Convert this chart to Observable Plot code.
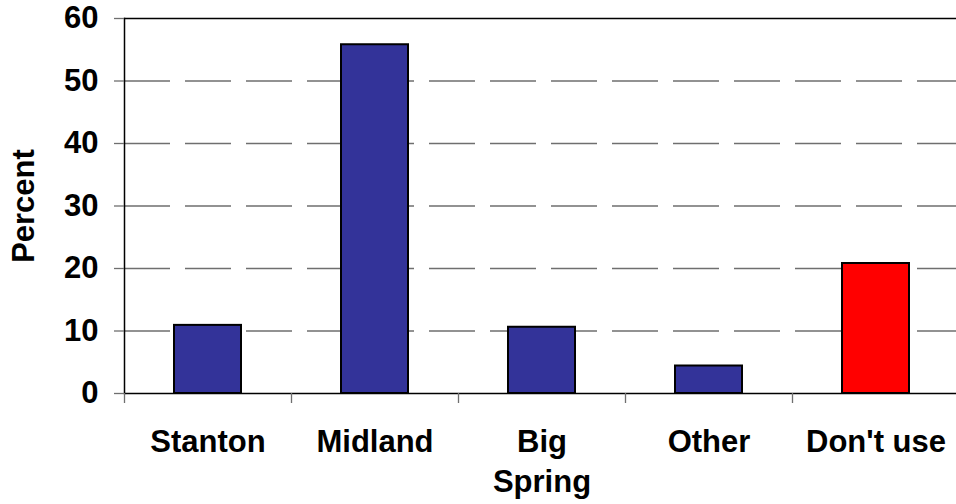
<!DOCTYPE html>
<html>
<head>
<meta charset="utf-8">
<script src="https://cdn.jsdelivr.net/npm/d3@7"></script>
<script src="https://cdn.jsdelivr.net/npm/@observablehq/plot@0.6"></script>
<style>
  html, body { margin: 0; padding: 0; background: #fff; }
  #chart svg { display: block; }
</style>
</head>
<body>
<div id="chart"></div>
<script>
const categories = ["Stanton", "Midland", "Big Spring", "Other", "Don't use"];
const values = [10.9, 55.8, 10.6, 4.4, 20.8];
const tickLabels = ["Stanton", "Midland", "Big\nSpring", "Other", "Don't use"];
const barColors = ["#333399", "#333399", "#333399", "#333399", "#ff0000"];
const yTicks = [0, 10, 20, 30, 40, 50, 60];
const gridValues = [10, 20, 30, 40, 50];
const yLabel = "Percent";

const data = categories.map((c, i) => ({category: c, value: values[i], color: barColors[i]}));
const labelOf = new Map(categories.map((c, i) => [c, tickLabels[i]]));

const W = 956, H = 504;
const xRange = [124, 959];
const step = (xRange[1] - xRange[0]) / categories.length;
const font = "'Liberation Sans', Arial, sans-serif";

const chart = Plot.plot({
  width: W,
  height: H,
  marginTop: 18,
  marginBottom: 111,
  marginLeft: 124,
  marginRight: 0,
  style: {fontFamily: font, color: "black", background: "white"},
  x: {domain: categories, range: xRange, paddingInner: 0.6, paddingOuter: 0.3, align: 0.5},
  y: {domain: [0, 60]},
  marks: [
    Plot.ruleY(gridValues, {stroke: "#6f6f6f", strokeWidth: 1.3, strokeDasharray: "46,15"}),
    Plot.ruleY([60], {stroke: "black", strokeWidth: 1.5}),
    Plot.barY(data, {x: "category", y: "value", fill: "color", stroke: "black", strokeWidth: 2}),
    Plot.ruleY([0], {stroke: "black", strokeWidth: 1.5}),
    Plot.frame({anchor: "left", stroke: "black", strokeWidth: 1.5}),
    Plot.axisY({ticks: yTicks, tickSize: 10, tickPadding: 16, fontSize: 31, fontWeight: "bold",
      stroke: "#6f6f6f", strokeWidth: 1.3, label: null}),
    Plot.axisX({tickSize: 10, tickFormat: () => "", dx: -step / 2, stroke: "#6f6f6f", strokeWidth: 1.3, label: null}),
    Plot.axisX({tickSize: 0, tickPadding: 30, fontSize: 31, fontWeight: "bold", lineHeight: 1.3,
      tickFormat: d => labelOf.get(d), label: null}),
    Plot.text([yLabel], {frameAnchor: "left", dx: -100, rotate: -90, fontSize: 31, fontWeight: "bold",
      textAnchor: "middle", lineAnchor: "middle", fill: "black"})
  ]
});
document.getElementById("chart").appendChild(chart);
</script>
</body>
</html>
